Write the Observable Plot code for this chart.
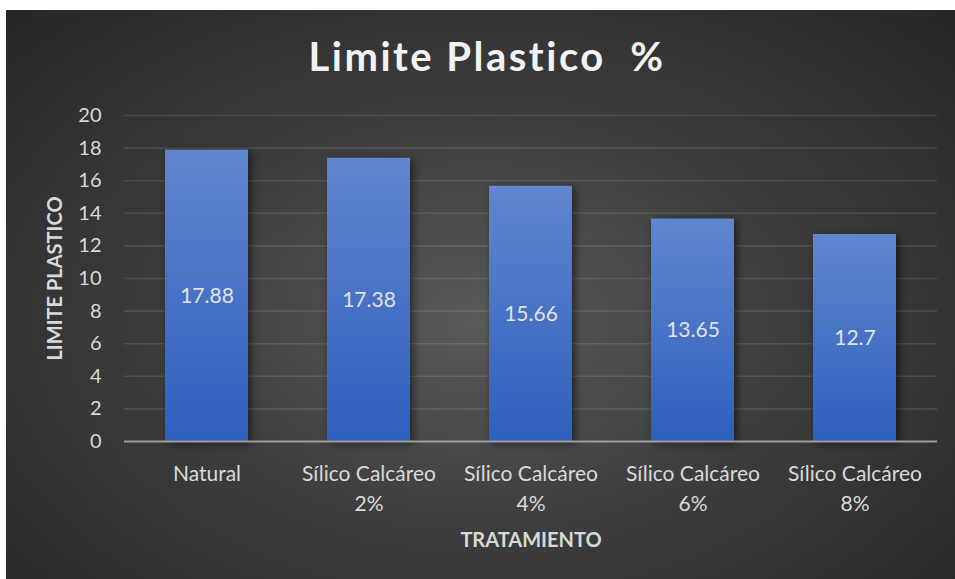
<!DOCTYPE html>
<html>
<head>
<meta charset="utf-8">
<script src="https://cdn.jsdelivr.net/npm/d3@7"></script>
<script src="https://cdn.jsdelivr.net/npm/@observablehq/plot@0.6"></script>
<style>
  html, body { margin: 0; padding: 0; background: #ffffff; }
  #wrap { position: relative; width: 955px; height: 579px; overflow: hidden; }
  #bg { position: absolute; left: 6px; top: 10px; right: 0; bottom: 0;
        background: radial-gradient(ellipse farthest-corner at 50% 55%, #5a5a5a 0%, #3e3e3e 45%, #262626 100%); }
  #chart { position: absolute; left: 0; top: 0; }
  #chart svg { background: transparent !important; overflow: visible; }
  g[aria-label="bar"] rect { filter: drop-shadow(3px 2px 4px rgba(0,0,0,0.55)); }
  #chart svg > g[aria-label="text"]:last-of-type text { letter-spacing: 2.5px; font-variant-ligatures: none; }
</style>
</head>
<body>
<svg width="0" height="0" style="position:absolute">
  <defs>
    <linearGradient id="barGrad" x1="0" y1="0" x2="0" y2="1">
      <stop offset="0%" stop-color="#6186cf"/>
      <stop offset="100%" stop-color="#2d60bd"/>
    </linearGradient>
  </defs>
</svg>
<div id="wrap"><div id="bg"></div><div id="chart"></div></div>
<script>
const categories = ["Natural", "Sílico Calcáreo 2%", "Sílico Calcáreo 4%", "Sílico Calcáreo 6%", "Sílico Calcáreo 8%"];
const values = [17.88, 17.38, 15.66, 13.65, 12.7];
const yTicks = [0, 2, 4, 6, 8, 10, 12, 14, 16, 18, 20];
const titleText = "Limite Plastico  %";
const xTitle = "TRATAMIENTO";
const yTitle = "LIMITE PLASTICO";

const data = categories.map((c, i) => ({cat: c, v: values[i]}));
const FONT = "Lato, 'Open Sans', sans-serif";
const breakLabel = s => { const k = s.lastIndexOf(" "); return s.startsWith("Sílico") ? s.slice(0, k) + "\n" + s.slice(k + 1) : s; };

const chart = Plot.plot({
  width: 955,
  height: 579,
  marginTop: 115,
  marginBottom: 138,
  marginLeft: 124,
  marginRight: 18,
  style: {background: "transparent", fontFamily: FONT, color: "#d9d9d9"},
  x: {domain: categories, paddingInner: 0.49, paddingOuter: 0.245, label: null},
  y: {domain: [0, 20], label: null},
  marks: [
    Plot.ruleY(yTicks.filter(t => t > 0), {stroke: "rgba(255,255,255,0.11)", strokeWidth: 1.6}),
    Plot.barY(data, {x: "cat", y: "v", fill: "url(#barGrad)"}),
    Plot.ruleY([0], {stroke: "#9c9c9c", strokeWidth: 2}),
    Plot.text(data, {x: "cat", y: d => d.v / 2, text: d => String(d.v), fill: "#e2e2e2", fontSize: 21, fontFamily: FONT}),
    Plot.axisY(yTicks, {tickSize: 0, tickPadding: 23, fontSize: 20, fill: "#d9d9d9", fontFamily: FONT, label: null}),
    Plot.axisX({tickSize: 0, tickPadding: 18, fontSize: 21, fill: "#d9d9d9", fontFamily: FONT, tickFormat: breakLabel, lineHeight: 1.43, label: null}),
    Plot.text([xTitle], {frameAnchor: "bottom", dy: 105, text: d => d, fontSize: 20, fontWeight: "bold", fill: "#d9d9d9", fontFamily: FONT}),
    Plot.text([yTitle], {frameAnchor: "left", dx: -69, rotate: -90, textAnchor: "middle", text: d => d, fontSize: 20, fontWeight: "bold", fill: "#d9d9d9", fontFamily: FONT}),
    Plot.text([titleText], {frameAnchor: "top", lineAnchor: "middle", dy: -57, dx: -44, text: d => d, fontSize: 40, fontWeight: "bold", fill: "#f2f2f2", fontFamily: FONT})
  ]
});
document.getElementById("chart").appendChild(chart);
</script>
</body>
</html>
